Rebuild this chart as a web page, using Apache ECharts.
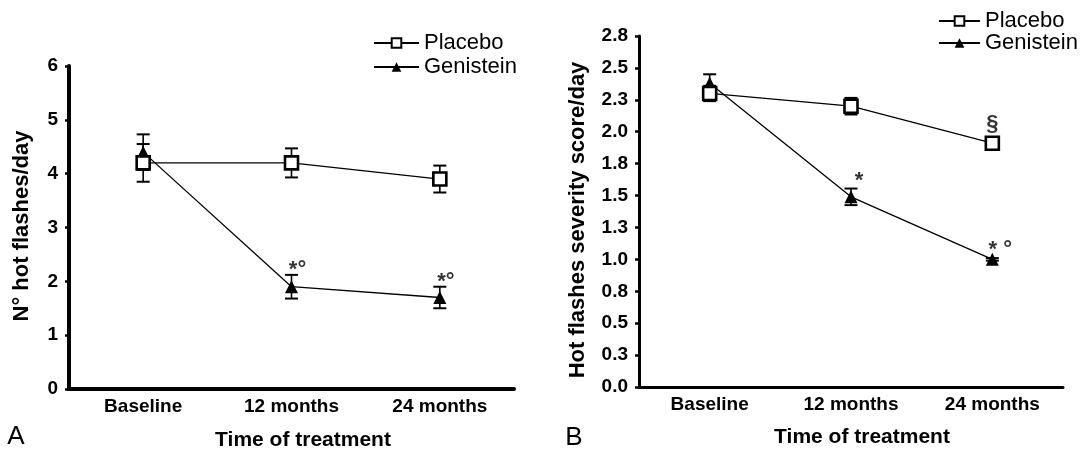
<!DOCTYPE html>
<html>
<head>
<meta charset="utf-8">
<script src="https://cdn.jsdelivr.net/npm/echarts@6/dist/echarts.min.js"></script>
<style>
html,body{margin:0;padding:0;background:#fff;}
#chart{width:1081px;height:450px;}
</style>
</head>
<body>
<div id="chart"></div>
<script>
// ---- data ----
const categories = ['Baseline', '12 months', '24 months'];

// Panel A: N° hot flashes/day
const placeboA = [4.2, 4.2, 3.9];
const placeboAErr = [0.35, 0.27, 0.25];
const genisteinA = [4.4, 1.9, 1.7];
const genisteinAErr = [0.33, 0.22, 0.2];
const genisteinAMarks = ['', '*°', '*°'];
const ticksA = ['0', '1', '2', '3', '4', '5', '6'];

// Panel B: Hot flashes severity score/day
const placeboB = [2.3, 2.2, 1.91];
const placeboBErr = [0.06, 0.065, 0.02];
const genisteinB = [2.38, 1.49, 1.0];
const genisteinBErr = [0.07, 0.065, 0.01];
const placeboBMarks = ['', '', '§'];
const genisteinBMarks = ['', '*', '* °'];
const ticksB = ['0.0', '0.3', '0.5', '0.8', '1.0', '1.3', '1.5', '1.8', '2.0', '2.3', '2.5', '2.8'];

// ---- helpers ----
const FONT = 'Liberation Sans, Arial, sans-serif';

function errData(vals, errs) {
  return vals.map((v, i) => [i, v - errs[i], v + errs[i]]);
}
function markData(vals, errs, marks) {
  return vals.map((v, i) => ({ value: [i, v + errs[i]], label: { formatter: marks[i] } }))
             .filter((d, i) => marks[i] !== '');
}
function errRender(params, api) {
  const x = api.value(0);
  const pLo = api.coord([x, api.value(1)]);
  const pHi = api.coord([x, api.value(2)]);
  const hw = 6.5;
  const cap = { stroke: '#000', lineWidth: 2 };
  return {
    type: 'group',
    children: [
      { type: 'line', shape: { x1: pLo[0], y1: pLo[1], x2: pHi[0], y2: pHi[1] }, style: { stroke: '#000', lineWidth: 1.6 } },
      { type: 'line', shape: { x1: pHi[0] - hw, y1: pHi[1], x2: pHi[0] + hw, y2: pHi[1] }, style: cap },
      { type: 'line', shape: { x1: pLo[0] - hw, y1: pLo[1], x2: pLo[0] + hw, y2: pLo[1] }, style: cap }
    ]
  };
}

const placeboStyle = {
  symbol: 'rect', symbolSize: 13,
  itemStyle: { color: '#fff', borderColor: '#000', borderWidth: 2.6 },
  lineStyle: { color: '#000', width: 1.3 }
};
const genisteinStyle = {
  symbol: 'triangle', symbolSize: 13,
  itemStyle: { color: '#000', borderColor: '#000', borderWidth: 0 },
  lineStyle: { color: '#000', width: 1.3 }
};

function xAxisCfg(gridIndex, lineW) {
  return {
    type: 'category', gridIndex, data: categories, boundaryGap: true,
    axisLine: { lineStyle: { color: '#000', width: lineW } },
    axisTick: { show: false },
    axisLabel: { color: '#000', fontFamily: FONT, fontWeight: 'bold', fontSize: 19, margin: 8 },
    splitLine: { show: false }
  };
}
function yAxisCfg(gridIndex, lineW, max, interval, ticks) {
  return {
    type: 'value', gridIndex, min: 0, max, interval,
    axisLine: { show: true, lineStyle: { color: '#000', width: lineW } },
    axisTick: { show: true, length: 4, lineStyle: { color: '#000', width: 2.5 } },
    axisLabel: {
      color: '#000', fontFamily: FONT, fontWeight: 'bold', fontSize: 19, margin: 11,
      formatter: (v) => ticks[Math.round(v / interval)]
    },
    splitLine: { show: false }
  };
}
function markSeries(name, xi, data, offset) {
  return {
    type: 'scatter', name, xAxisIndex: xi, yAxisIndex: xi, data,
    symbolSize: 0, silent: true, z: 6,
    label: {
      show: true, position: 'inside', offset,
      color: '#000', fontFamily: FONT, fontWeight: 'bold', fontSize: 22
    }
  };
}

const legendText = { color: '#000', fontFamily: FONT, fontSize: 22, lineHeight: 22 };

const option = {
  animation: false,
  backgroundColor: '#fff',
  grid: [
    { left: 69, top: 66, width: 445, height: 323 },
    { left: 639, top: 36, width: 424, height: 351 }
  ],
  xAxis: [xAxisCfg(0, 4), xAxisCfg(1, 3)],
  yAxis: [yAxisCfg(0, 4, 6, 1, ticksA), yAxisCfg(1, 3, 2.75, 0.25, ticksB)],
  legend: [
    {
      orient: 'vertical', left: 373, top: 32, padding: 0, itemWidth: 45, itemHeight: 12, itemGap: 2,
      textStyle: legendText, data: ['Placebo', 'Genistein'],
      selectedMode: false
    },
    {
      orient: 'vertical', left: 938, top: 10, padding: 0, itemWidth: 41, itemHeight: 12, itemGap: 0,
      textStyle: legendText, data: ['Placebo ', 'Genistein '],
      selectedMode: false
    }
  ],
  series: [
    // Panel A
    { type: 'custom', name: 'errA', xAxisIndex: 0, yAxisIndex: 0, renderItem: errRender,
      data: errData(placeboA, placeboAErr), z: 2, silent: true },
    { type: 'custom', name: 'errA2', xAxisIndex: 0, yAxisIndex: 0, renderItem: errRender,
      data: errData(genisteinA, genisteinAErr), z: 2, silent: true },
    Object.assign({ type: 'line', name: 'Genistein', xAxisIndex: 0, yAxisIndex: 0, data: genisteinA, z: 3 }, genisteinStyle),
    Object.assign({ type: 'line', name: 'Placebo', xAxisIndex: 0, yAxisIndex: 0, data: placeboA, z: 4 }, placeboStyle),
    markSeries('marksA', 0, markData(genisteinA, genisteinAErr, genisteinAMarks), [6, -5]),
    // Panel B
    { type: 'custom', name: 'errB', xAxisIndex: 1, yAxisIndex: 1, renderItem: errRender,
      data: errData(placeboB, placeboBErr), z: 2, silent: true },
    { type: 'custom', name: 'errB2', xAxisIndex: 1, yAxisIndex: 1, renderItem: errRender,
      data: errData(genisteinB, genisteinBErr), z: 2, silent: true },
    Object.assign({ type: 'line', name: 'Genistein ', xAxisIndex: 1, yAxisIndex: 1, data: genisteinB, z: 3 }, genisteinStyle),
    Object.assign({ type: 'line', name: 'Placebo ', xAxisIndex: 1, yAxisIndex: 1, data: placeboB, z: 4 }, placeboStyle),
    markSeries('marksBp', 1, markData(placeboB, placeboBErr, placeboBMarks), [0, -17]),
    markSeries('marksBg', 1, markData(genisteinB, genisteinBErr, genisteinBMarks), [8, -8])
  ],
  graphic: [
    { type: 'text', x: 303, y: 440, style: { text: 'Time of treatment', textAlign: 'center', textVerticalAlign: 'middle', fill: '#000', font: 'bold 21px ' + FONT } },
    { type: 'text', x: 862, y: 437, style: { text: 'Time of treatment', textAlign: 'center', textVerticalAlign: 'middle', fill: '#000', font: 'bold 21px ' + FONT } },
    { type: 'text', x: 22, y: 226, rotation: Math.PI / 2, style: { text: 'N° hot flashes/day', textAlign: 'center', textVerticalAlign: 'middle', fill: '#000', font: 'bold 22px ' + FONT } },
    { type: 'text', x: 578, y: 220, rotation: Math.PI / 2, style: { text: 'Hot flashes severity score/day', textAlign: 'center', textVerticalAlign: 'middle', fill: '#000', font: 'bold 22px ' + FONT } },
    { type: 'text', x: 16, y: 437, style: { text: 'A', textAlign: 'center', textVerticalAlign: 'middle', fill: '#000', font: '26px ' + FONT } },
    { type: 'text', x: 574, y: 438, style: { text: 'B', textAlign: 'center', textVerticalAlign: 'middle', fill: '#000', font: '26px ' + FONT } }
  ]
};

const chart = echarts.init(document.getElementById('chart'), null, { renderer: 'canvas' });
chart.setOption(option);
</script>
</body>
</html>
